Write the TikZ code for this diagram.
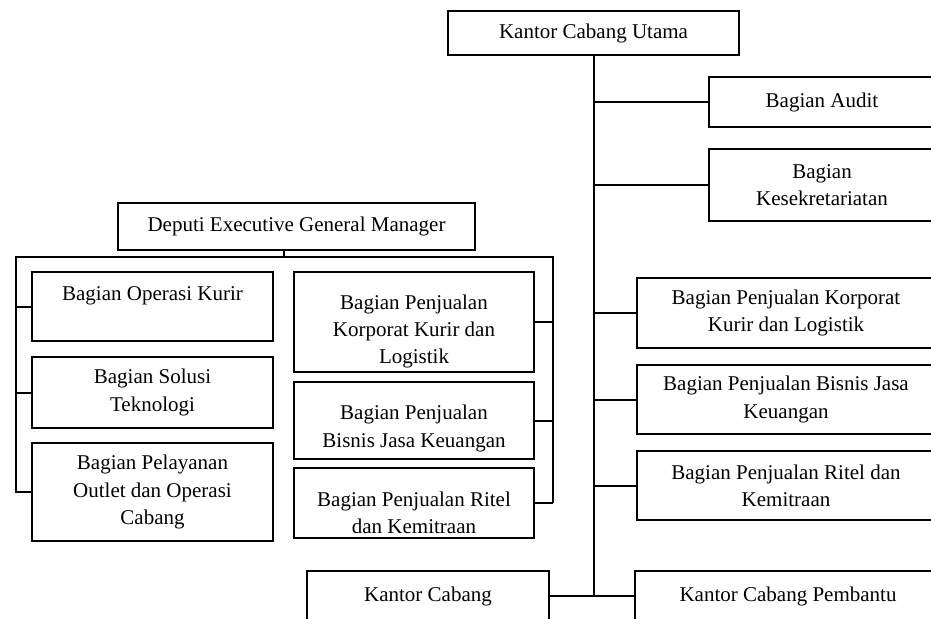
\documentclass[tikz,border=0pt]{standalone}
\usepackage{fontspec}
\setmainfont{Liberation Serif}

\tikzset{every picture/.style={line width=1.5pt}}
\tikzset{orgbox/.style={draw, inner sep=0pt, align=center, font=\fontsize{15.75}{20.5}\selectfont},
         boxsize/.style 2 args={minimum width=#1*0.75pt, minimum height=#2*0.75pt}}

\begin{document}
\begin{tikzpicture}[x=0.75pt,y=0.75pt,yscale=-1,xscale=1]
    \useasboundingbox (0,0) rectangle (931,618);
    % Text Node
    \node [orgbox, boxsize={291}{44}] (kcu) at (593.5,33) {Kantor Cabang Utama};
    % Text Node
    \node [orgbox, boxsize={226}{50}] (audit) at (822,102) {Bagian Audit};
    % Text Node
    \node [orgbox, boxsize={226}{72}] (sekre) at (822,185) {Bagian\\Kesekretariatan};
    % Text Node
    \node [orgbox, boxsize={298}{70}] (rkorp) at (786,313) {Bagian Penjualan Korporat\\Kurir dan Logistik};
    % Text Node
    \node [orgbox, boxsize={298}{69}] (rbisnis) at (786,399.5) {Bagian Penjualan Bisnis Jasa\\Keuangan};
    % Text Node
    \node [orgbox, boxsize={298}{69}] (rritel) at (786,485.5) {Bagian Penjualan Ritel dan\\Kemitraan};
    % Text Node
    \node [orgbox, boxsize={242}{50}] (kc) at (428,596) {Kantor Cabang};
    % Text Node
    \node [orgbox, boxsize={306}{50}] (kcp) at (788,596) {Kantor Cabang Pembantu};
    % Text Node
    \node [orgbox, boxsize={357}{47}] (deputi) at (296.5,226.5) {Deputi Executive General Manager};
    % Text Node
    \node [orgbox, boxsize={241}{69}, text depth=20pt] (kurir) at (152.5,306.5) {Bagian Operasi Kurir};
    % Text Node
    \node [orgbox, boxsize={241}{71}] (solusi) at (152.5,392.5) {Bagian Solusi\\Teknologi};
    % Text Node
    \node [orgbox, boxsize={241}{98}] (outlet) at (152.5,492) {Bagian Pelayanan\\Outlet dan Operasi\\Cabang};
    % Text Node
    \node [orgbox, boxsize={240}{100}, text height=62.5pt, text depth=0pt] (mkorp) at (414,322) {Bagian Penjualan\\Korporat Kurir dan\\Logistik};
    % Text Node
    \node [orgbox, boxsize={240}{77}, text height=40pt, text depth=0pt] (mbisnis) at (414,420.5) {Bagian Penjualan\\Bisnis Jasa Keuangan};
    % Text Node
    \node [orgbox, boxsize={240}{70}, text height=45.5pt, text depth=0pt] (mritel) at (414,503) {Bagian Penjualan Ritel\\dan Kemitraan};
    % Bus under deputi
    \coordinate (busL) at (16,257);
    \coordinate (busR) at (553,257);
    \coordinate (stem) at (284,251);
    % Connection
    \draw (kcu.south) -- (kcu.south |- kc.east);
    \draw (kcu.south |- audit.west) -- (audit.west);
    \draw (kcu.south |- sekre.west) -- (sekre.west);
    \draw (kcu.south |- rkorp.west) -- (rkorp.west);
    \draw (kcu.south |- rbisnis.west) -- (rbisnis.west);
    \draw (kcu.south |- rritel.west) -- (rritel.west);
    \draw (kc.east) -- (kcp.west);
    % Connection
    \draw (stem) -- (stem |- busL);
    \draw (busR |- mritel.east) -- (busR) -- (busL) |- (outlet.west);
    \draw (busL |- kurir.west) -- (kurir.west);
    \draw (busL |- solusi.west) -- (solusi.west);
    \draw (busR |- mkorp.east) -- (mkorp.east);
    \draw (busR |- mbisnis.east) -- (mbisnis.east);
    \draw (busR |- mritel.east) -- (mritel.east);
\end{tikzpicture}
\end{document}
